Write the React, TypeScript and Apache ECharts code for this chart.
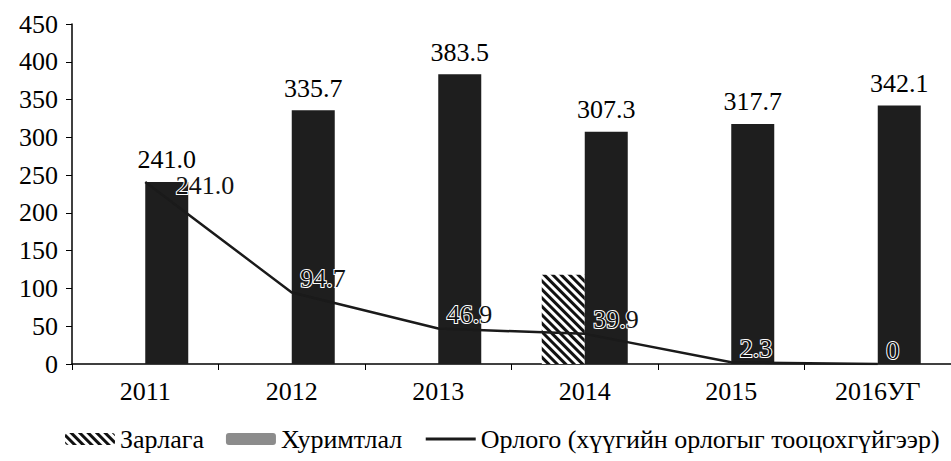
import React, { useEffect, useRef } from "react";
import * as echarts from "echarts";

const categories = ["2011", "2012", "2013", "2014", "2015", "2016УГ"];
const zarlaga: (number | null)[] = [null, null, null, 118, null, null];
const khurimtlal = [241.0, 335.7, 383.5, 307.3, 317.7, 342.1];
const orlogo = [241.0, 94.7, 46.9, 39.9, 2.3, 0];
const yTicks = { min: 0, max: 450, interval: 50 };

const FONT = "Liberation Serif";

export default function App() {
  const ref = useRef<HTMLDivElement>(null);
  useEffect(() => {
    if (!ref.current) return;
    const chart = echarts.init(ref.current, null, { renderer: "svg" });
    const lineData = orlogo.map((v, i) =>
      i === 0 ? { value: v, label: { offset: [22, 4] } } : v
    );
    chart.setOption({
      animation: false,
      backgroundColor: "#fff",
      textStyle: { fontFamily: FONT },
      grid: { left: 72, top: 24, width: 888, height: 340 },
      legend: {
        bottom: 4,
        left: 60,
        itemWidth: 50,
        itemHeight: 12,
        itemGap: 22,
        textStyle: { fontFamily: FONT, fontSize: 26, color: "#000" },
        data: [
          { name: "Зарлага" },
          { name: "Хуримтлал", itemStyle: { color: "#8c8c8c" } },
          {
            name: "Орлого (хүүгийн орлогыг тооцохгүйгээр)",
            itemStyle: { color: "transparent" },
            lineStyle: { width: 3, color: "#1a1a1a" },
          },
        ],
      },
      xAxis: {
        type: "category",
        data: categories,
        axisLine: { lineStyle: { color: "#000", width: 1.5 } },
        axisTick: { show: true, length: 6, inside: false, lineStyle: { color: "#000" } },
        axisLabel: { color: "#000", fontSize: 26, fontFamily: FONT, margin: 14 },
      },
      yAxis: {
        type: "value",
        min: yTicks.min,
        max: yTicks.max,
        interval: yTicks.interval,
        axisLine: { show: true, lineStyle: { color: "#000", width: 1.5 } },
        axisTick: { show: true, length: 6, lineStyle: { color: "#000" } },
        splitLine: { show: false },
        axisLabel: { color: "#000", fontSize: 26, fontFamily: FONT, margin: 14 },
      },
      series: [
        {
          name: "Зарлага",
          type: "bar",
          data: zarlaga,
          barWidth: 43,
          barGap: "0%",
          itemStyle: {
            color: "#ffffff",
            decal: {
              symbol: "rect",
              symbolSize: 1,
              dashArrayX: [1, 0],
              dashArrayY: [3, 3],
              rotation: Math.PI / 4,
              color: "#111",
            },
          },
        },
        {
          name: "Хуримтлал",
          type: "bar",
          data: khurimtlal,
          barWidth: 43,
          barGap: "0%",
          itemStyle: { color: "#1e1e1e" },
          label: {
            show: true,
            position: "top",
            distance: 9,
            color: "#000",
            fontSize: 26,
            fontFamily: FONT,
            formatter: (p: any) => Number(p.value).toFixed(1),
          },
        },
        {
          name: "Орлого (хүүгийн орлогыг тооцохгүйгээр)",
          type: "line",
          data: lineData,
          showSymbol: true,
          symbol: "circle",
          symbolSize: 1,
          z: 5,
          lineStyle: { color: "#1a1a1a", width: 2.5 },
          itemStyle: { color: "transparent", borderWidth: 0 },
          label: {
            show: true,
            position: "right",
            distance: 8,
            offset: [0, -14],
            color: "#111",
            textBorderColor: "#fff",
            textBorderWidth: 2,
            fontSize: 26,
            fontFamily: FONT,
            formatter: (p: any) => (p.value === 0 ? "0" : Number(p.value).toFixed(1)),
          },
        },
      ],
    });
    return () => chart.dispose();
  }, []);
  return (
    <div
      ref={ref}
      style={{ position: "fixed", left: 0, top: 0, width: 951, height: 461 }}
    />
  );
}
